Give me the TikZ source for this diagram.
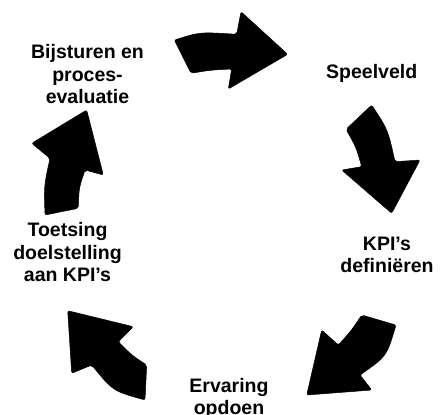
\documentclass[tikz,border=0pt]{standalone}
\usepackage{fontspec}
\setmainfont{Liberation Sans}
\begin{document}
\begin{tikzpicture}[x=1bp,y=-1bp,
  steplabel/.style={font=\fontsize{19.5bp}{22.5bp}\selectfont\bfseries,
    align=center, inner sep=0pt, anchor=base},
  blockarrow/.style={fill=black, draw=black, line width=0.5bp, rounded corners=2bp}]
\useasboundingbox (0,0) rectangle (440,414);

% cycle stages (placed by the baseline of their last line)
\node[steplabel] (bijsturen) at (87.5,103.5) {Bijsturen en\\proces-\\evaluatie};
\node[steplabel] (speelveld) at (371.7,78.3) {Speelveld};
\node[steplabel] (kpi) at (387,272.5) {KPI’s\\definiëren};
\node[steplabel] (ervaring) at (229,414.8) {Ervaring\\opdoen};
\node[steplabel] (toetsing) at (67.5,281.7) {Toetsing\\doelstelling\\aan KPI’s};

% curved block arrows between the stages
\path[blockarrow] (174.3,40) .. controls (200,32) .. (236.7,34.3) -- (241,11.7)
  -- (287.7,54.3) -- (228.3,89) -- (231.7,69) .. controls (211,70) .. (191,73.3) -- cycle;
\path[blockarrow] (371.7,105) .. controls (388,130) .. (395,161.7) -- (420,160)
  -- (391.7,213.3) -- (341.7,170) -- (361.7,166.7) .. controls (356,147) .. (346,129.3) -- cycle;
\path[blockarrow] (396,325) .. controls (386.7,356.2) .. (360,375) -- (371.7,390)
  -- (306.7,395) -- (321.7,330) -- (338.3,345) .. controls (351,331) .. (361.7,315) -- cycle;
\path[blockarrow] (145,400) .. controls (113,391) .. (91.7,365) -- (71.7,373.3)
  -- (67.7,310.7) -- (133.3,326.7) -- (118.3,341.7) .. controls (131.5,355) .. (146.7,365) -- cycle;
\path[blockarrow] (45,215) .. controls (44,186) .. (50,158.3) -- (31.7,143.3)
  -- (86.7,110) -- (103.3,175) -- (85,170) .. controls (79,188) .. (78.3,208.3) -- cycle;
\end{tikzpicture}
\end{document}
